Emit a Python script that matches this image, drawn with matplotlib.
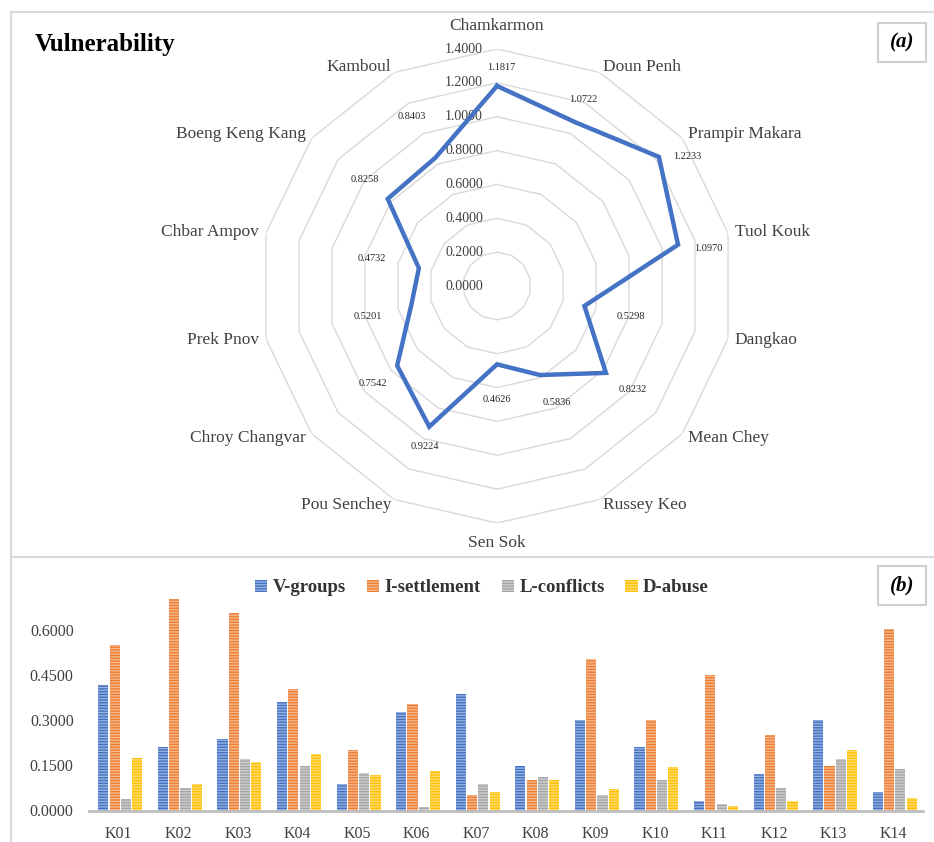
import numpy as np
import matplotlib
matplotlib.use('Agg')
import matplotlib.pyplot as plt
from matplotlib.patches import Rectangle

plt.rcParams['font.family'] = ['Liberation Serif', 'DejaVu Serif']
plt.rcParams['hatch.linewidth'] = 1.0

# (a) vulnerability per district, clockwise from the top
districts = ['Chamkarmon', 'Doun Penh', 'Prampir Makara', 'Tuol Kouk', 'Dangkao',
             'Mean Chey', 'Russey Keo', 'Sen Sok', 'Pou Senchey', 'Chroy Changvar',
             'Prek Pnov', 'Chbar Ampov', 'Boeng Keng Kang', 'Kamboul']
vulnerability = [1.1817, 1.0722, 1.2233, 1.0970, 0.5298, 0.8232, 0.5836, 0.4626,
                 0.9224, 0.7542, 0.5201, 0.4732, 0.8258, 0.8403]
rings = [0.0, 0.2, 0.4, 0.6, 0.8, 1.0, 1.2, 1.4]

# (b) indicator values per khan
khans = ['K01', 'K02', 'K03', 'K04', 'K05', 'K06', 'K07',
         'K08', 'K09', 'K10', 'K11', 'K12', 'K13', 'K14']
series = ['V-groups', 'I-settlement', 'L-conflicts', 'D-abuse']
v_groups = [0.418, 0.211, 0.238, 0.362, 0.089, 0.328, 0.389,
            0.149, 0.301, 0.211, 0.032, 0.121, 0.301, 0.061]
i_settlement = [0.552, 0.704, 0.656, 0.403, 0.202, 0.354, 0.052,
                0.102, 0.505, 0.301, 0.452, 0.252, 0.149, 0.602]
l_conflicts = [0.037, 0.076, 0.172, 0.148, 0.126, 0.012, 0.088,
               0.112, 0.052, 0.102, 0.023, 0.076, 0.172, 0.137]
d_abuse = [0.173, 0.088, 0.162, 0.189, 0.117, 0.133, 0.061,
           0.102, 0.072, 0.144, 0.015, 0.032, 0.202, 0.043]
bar_ticks = [0.0, 0.15, 0.30, 0.45, 0.60]

colors = ['#4472C4', '#ED7D31', '#A5A5A5', '#FFC000']
# pixel offsets of the value labels from their points (x right, y up)
label_off = [(4, 18), (8, 23), (28, 0), (30, -4), (46, -11), (27, -17), (17, -27),
             (0, -35), (-4, -20), (-24, -18), (-43, -11), (-47, 10), (-23, 19), (-23, 41)]

W, H = 934, 842
fig = plt.figure(figsize=(W / 100, H / 100), dpi=100)

# panel frames
fig.add_artist(Rectangle((11 / W, 1 - 557 / H), 1.0, (557 - 12) / H, transform=fig.transFigure,
                         fill=False, edgecolor='#d9d9d9', lw=1.5))
fig.add_artist(Rectangle((11 / W, -0.1), 1.0, 0.1 + 1 - 557 / H, transform=fig.transFigure,
                         fill=False, edgecolor='#d9d9d9', lw=1.5))
for lab, ytop in [('(a)', 23), ('(b)', 566)]:
    fig.add_artist(Rectangle((878 / W, 1 - (ytop + 39) / H), 48 / W, 39 / H,
                             transform=fig.transFigure, facecolor='white',
                             edgecolor='#cfcfcf', lw=1.5))
    fig.text(902 / W, 1 - (ytop + 19.5) / H, lab, ha='center', va='center',
             fontsize=15, fontweight='bold', fontstyle='italic')

fig.text(35 / W, 1 - 44 / H, 'Vulnerability', ha='left', va='center',
         fontsize=18, fontweight='bold')

# ---- (a) radar
cx, cy, R = 497, 286, 237
ax = fig.add_axes([(cx - R) / W, 1 - (cy + R) / H, 2 * R / W, 2 * R / H], projection='polar')
ax.set_theta_zero_location('N')
ax.set_theta_direction(-1)
ax.set_ylim(0, 1.4)
ax.grid(False)
ax.set_xticks([])
ax.set_yticks([])
ax.spines['polar'].set_visible(False)
ax.patch.set_alpha(0)

n = len(districts)
theta = np.arange(n) * 2 * np.pi / n
tc = np.append(theta, theta[0])
for r in rings[1:]:
    ax.plot(tc, [r] * (n + 1), color='#d9d9d9', lw=1.0, zorder=1)
for r in rings:
    ax.annotate('%.4f' % r, xy=(0, r), xytext=(-14, 0), textcoords='offset pixels',
                ha='right', va='center', fontsize=10, color='#404040', zorder=2)

vals = np.append(vulnerability, vulnerability[0])
ax.plot(tc, vals, color=colors[0], lw=3.2, zorder=3, solid_joinstyle='miter')
for i, v in enumerate(vulnerability):
    ax.annotate('%.4f' % v, xy=(theta[i], v), xytext=label_off[i], textcoords='offset pixels',
                ha='center', va='center', fontsize=7.5, color='#262626', zorder=4)

for i, name in enumerate(districts):
    s, c = np.sin(theta[i]), np.cos(theta[i])
    if abs(s) < 0.01:
        off = (0, 15) if c > 0 else (0, -12)
        va = 'bottom' if c > 0 else 'top'
        ha = 'center'
    else:
        off = (7 * s, 6 * c)
        va = 'center'
        ha = 'left' if s > 0 else 'right'
    ax.annotate(name, xy=(theta[i], 1.4), xytext=off, textcoords='offset pixels',
                ha=ha, va=va, fontsize=12.5, color='#404040', annotation_clip=False)

# ---- (b) grouped bars
y0, y1 = 810.5, 594
bx = fig.add_axes([89 / W, 1 - y0 / H, (923 - 89) / W, (y0 - y1) / H])
x = np.arange(len(khans))
handles = []
for j, data in enumerate([v_groups, i_settlement, l_conflicts, d_abuse]):
    b = bx.bar(x + (j - 1.5) * 0.19 + 0.025, data, width=0.17, color=colors[j],
               edgecolor=(1, 1, 1, 0.45), linewidth=0, hatch='------', label=series[j])
    handles.append(b)
bx.set_xlim(-0.5, len(khans) - 0.5)
bx.set_ylim(0, 0.72)
bx.set_yticks(bar_ticks)
bx.set_yticklabels(['%.4f' % t for t in bar_ticks])
bx.set_xticks(x)
bx.set_xticklabels(khans)
bx.tick_params(length=0, labelsize=11.5, colors='#404040')
bx.tick_params(axis='x', pad=11)
bx.tick_params(axis='y', pad=11)
for sp in ['top', 'right', 'left']:
    bx.spines[sp].set_visible(False)
bx.spines['bottom'].set_color('#bfbfbf')
bx.spines['bottom'].set_linewidth(2)
bx.patch.set_alpha(0)

leg = fig.legend(handles=handles, loc='center', bbox_to_anchor=(482 / W, 1 - 588 / H),
                 ncol=4, frameon=False, handlelength=0.65, handleheight=0.6,
                 handletextpad=0.3, columnspacing=1.1,
                 prop={'size': 13.5, 'weight': 'bold'})
for t in leg.get_texts():
    t.set_color('#333333')

fig.savefig('out.png', dpi=100)
